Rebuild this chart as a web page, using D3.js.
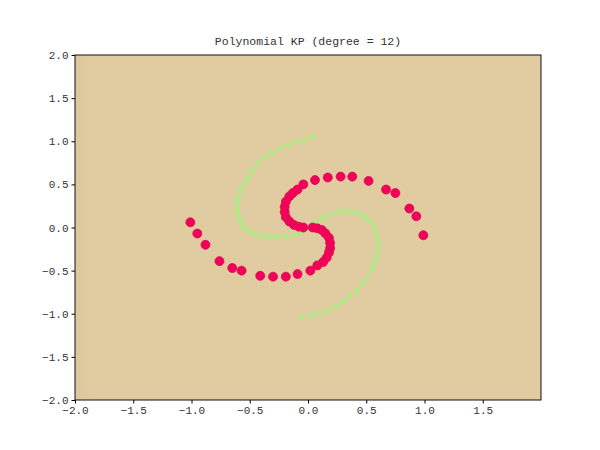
<!DOCTYPE html>
<html>
<head>
<meta charset="utf-8">
<script src="https://cdn.jsdelivr.net/npm/d3@7"></script>
<style>
  body { margin: 0; background: #fff; }
  text { font-family: "Liberation Mono", "DejaVu Sans Mono", monospace; fill: #333; }
</style>
</head>
<body>
<div id="chart"></div>
<script>
const width = 600, height = 450,
  margin = { top: 55, right: 59, bottom: 50, left: 75 }

const title = "Polynomial KP (degree = 12)"
const xTicks = [-2, -1.5, -1, -0.5, 0, 0.5, 1, 1.5]
const yTicks = [-2, -1.5, -1, -0.5, 0, 0.5, 1, 1.5, 2]

// green class, upper-left arm and lower-right arm
const greenA = [
  [-0.03, -0.03], [-0.07, -0.06], [-0.13, -0.09], [-0.20, -0.10], [-0.27, -0.11], [-0.33, -0.11],
  [-0.39, -0.10], [-0.45, -0.08], [-0.50, -0.05], [-0.55, 0.00], [-0.58, 0.06], [-0.60, 0.13],
  [-0.61, 0.20], [-0.61, 0.28], [-0.60, 0.35], [-0.58, 0.43], [-0.55, 0.50], [-0.52, 0.58],
  [-0.48, 0.66], [-0.43, 0.74], [-0.37, 0.81], [-0.31, 0.87], [-0.24, 0.92], [-0.17, 0.96],
  [-0.10, 0.99], [-0.03, 1.02], [0.04, 1.05]
]
const greenB = [
  [0.03, 0.03], [0.07, 0.06], [0.13, 0.11], [0.19, 0.15], [0.26, 0.18], [0.32, 0.19],
  [0.38, 0.18], [0.44, 0.16], [0.49, 0.12], [0.53, 0.07], [0.57, 0.00], [0.59, -0.08],
  [0.60, -0.16], [0.60, -0.25], [0.59, -0.33], [0.57, -0.41], [0.55, -0.48], [0.51, -0.57],
  [0.47, -0.65], [0.42, -0.73], [0.36, -0.80], [0.30, -0.86], [0.24, -0.91], [0.17, -0.96],
  [0.10, -0.99], [0.03, -1.02], [-0.05, -1.05]
]

// red class, two arms
const redA = [
  [-0.04, 0.00], [-0.08, 0.01], [-0.12, 0.03], [-0.16, 0.07], [-0.19, 0.12], [-0.20, 0.18],
  [-0.20, 0.24], [-0.19, 0.30], [-0.16, 0.36], [-0.13, 0.40], [-0.09, 0.44], [-0.04, 0.50],
  [0.06, 0.55], [0.17, 0.58], [0.28, 0.59], [0.38, 0.59], [0.52, 0.54], [0.67, 0.44],
  [0.75, 0.40], [0.87, 0.22], [0.93, 0.13], [0.99, -0.09]
]
const redB = [
  [0.04, 0.00], [0.08, -0.01], [0.12, -0.03], [0.15, -0.07], [0.18, -0.12], [0.19, -0.18],
  [0.19, -0.24], [0.18, -0.29], [0.16, -0.35], [0.13, -0.40], [0.08, -0.44], [0.02, -0.50],
  [-0.09, -0.54], [-0.19, -0.57], [-0.30, -0.57], [-0.41, -0.56], [-0.57, -0.50], [-0.65, -0.47],
  [-0.76, -0.39], [-0.88, -0.20], [-0.95, -0.07], [-1.01, 0.06]
]

const svg = d3.select("#chart").append("svg")
  .attr("width", width)
  .attr("height", height)

const x = d3.scaleLinear().domain([-2, 2]).range([margin.left, width - margin.right])
const y = d3.scaleLinear().domain([-2, 2]).range([height - margin.bottom, margin.top])

// background of the decision surface
const grad = svg.append("defs").append("linearGradient").attr("id", "bg")
grad.append("stop").attr("offset", "0%").attr("stop-color", "#dcc89e")
grad.append("stop").attr("offset", "4%").attr("stop-color", "#e1cca1")
grad.append("stop").attr("offset", "100%").attr("stop-color", "#e1cca1")

svg.append("rect")
  .attr("x", x(-2)).attr("y", y(2))
  .attr("width", x(2) - x(-2)).attr("height", y(-2) - y(2))
  .attr("fill", "url(#bg)")

const plot = svg.append("g")

plot.selectAll(".green")
  .data(greenA.concat(greenB))
  .join("circle")
  .attr("class", "green")
  .attr("cx", d => x(d[0]))
  .attr("cy", d => y(d[1]))
  .attr("r", 3)
  .attr("fill", "#9ef47e")
  .attr("opacity", 0.7)

plot.selectAll(".red")
  .data(redA.concat(redB))
  .join("circle")
  .attr("class", "red")
  .attr("cx", d => x(d[0]))
  .attr("cy", d => y(d[1]))
  .attr("r", 4.5)
  .attr("fill", "#f2005a")
  .attr("stroke", "#d8104e")
  .attr("stroke-width", 0.8)

// axes
const fmt = d => d3.format(".1f")(d).replace("-", "\u2212")

svg.append("g")
  .attr("transform", `translate(0,${y(-2)})`)
  .call(d3.axisBottom(x).tickValues(xTicks).tickFormat(fmt).tickSize(3.5).tickPadding(3))
  .call(g => g.select(".domain").remove())
  .selectAll("text").attr("font-size", 11).attr("font-family", "Liberation Mono").attr("fill", "#333")

svg.append("g")
  .attr("transform", `translate(${x(-2)},0)`)
  .call(d3.axisLeft(y).tickValues(yTicks).tickFormat(fmt).tickSize(3.5).tickPadding(3))
  .call(g => g.select(".domain").remove())
  .selectAll("text").attr("font-size", 11).attr("font-family", "Liberation Mono").attr("fill", "#333")

svg.append("rect")
  .attr("x", x(-2)).attr("y", y(2))
  .attr("width", x(2) - x(-2)).attr("height", y(-2) - y(2))
  .attr("fill", "none")
  .attr("stroke", "#111")
  .attr("stroke-width", 1)

svg.append("text")
  .attr("x", (x(-2) + x(2)) / 2)
  .attr("y", 45)
  .attr("text-anchor", "middle")
  .attr("font-size", 11.5)
  .text(title)
</script>
</body>
</html>
